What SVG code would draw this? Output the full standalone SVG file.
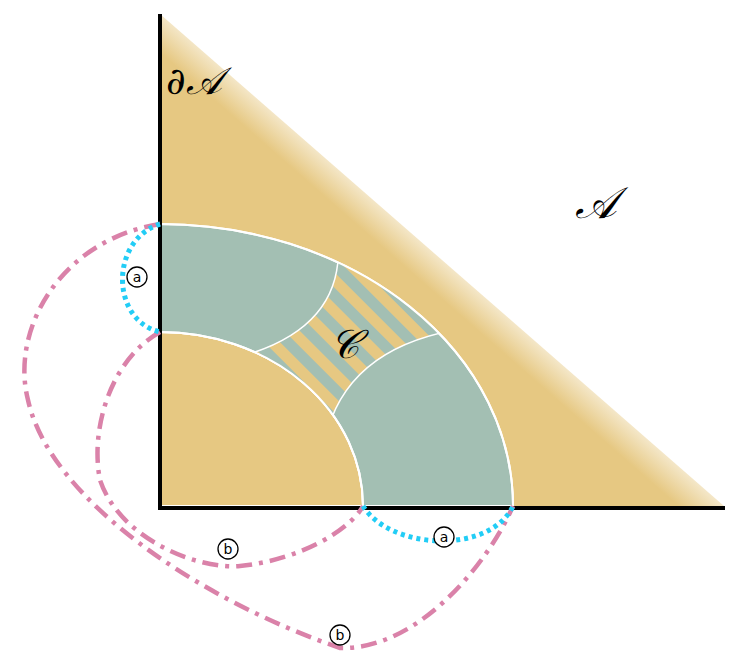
<svg xmlns="http://www.w3.org/2000/svg" width="739" height="663" viewBox="0 0 739 663">
<style>
.pk{fill:none;stroke:#da82a9;stroke-width:4.5;stroke-dasharray:16 7 4 7}
.bl{fill:none;stroke:#22cdf6;stroke-width:5;stroke-dasharray:4 4}
.lab circle{fill:#fff;stroke:#000;stroke-width:1.3}
.lab text{font-family:"DejaVu Sans",sans-serif;font-size:14px;text-anchor:middle}
.m{font-family:"DejaVu Serif","Noto Sans",serif;font-style:italic}
</style>
<defs>
<linearGradient id="g" gradientUnits="userSpaceOnUse" x1="420" y1="280" x2="455" y2="240">
<stop offset="0" stop-color="#e6c882"/><stop offset="1" stop-color="#fff"/>
</linearGradient>
<pattern id="st" patternUnits="userSpaceOnUse" width="22" height="22" patternTransform="rotate(-45)">
<rect width="22" height="22" fill="#e6c882"/><rect width="11" height="22" fill="#a3bfb3"/>
</pattern>
<clipPath id="ann"><path d="M160,224 A353,282 0 0 1 513,506 L363,506 A203,174 0 0 0 160,332 Z"/></clipPath>
</defs>
<g id="region-A"><path d="M160,14 L724,506 L160,506 Z" fill="url(#g)"/></g>
<g id="inner"><path d="M160,332 A203,174 0 0 1 363,506 L160,506 Z" fill="#e6c882" stroke="#fff" stroke-width="2"/></g>
<g id="annulus">
<path d="M160,224 A353,282 0 0 1 513,506 L363,506 A203,174 0 0 0 160,332 Z" fill="#a3bfb3" stroke="#fff" stroke-width="2"/>
<g clip-path="url(#ann)"><path d="M338,240 Q345,330 235,358 L325,440 Q345,350 455,330 Z" fill="url(#st)" stroke="#fff" stroke-width="1.5"/></g>
<path d="M160,224 A353,282 0 0 1 513,506 M363,506 A203,174 0 0 0 160,332" fill="none" stroke="#fff" stroke-width="2"/>
</g>
<g id="axes" stroke="#000" stroke-width="4" fill="none"><path d="M160,14 L160,508 L725,508"/></g>
<g id="connectors">
<path class="pk" d="M160,224 C60,240 10,330 28,400 C50,500 200,600 340,648 C420,650 490,560 513,506"/>
<path class="pk" d="M160,332 C110,360 90,430 100,480 C120,540 200,570 240,566 C300,560 350,530 363,506"/>
<path class="bl" d="M160,224 C110,240 110,320 160,332"/>
<path class="bl" d="M363,506 C390,550 490,555 513,506"/>
</g>
<g id="labels">
<g class="lab"><circle cx="137" cy="277" r="10"/><text x="137" y="282">a</text></g>
<g class="lab"><circle cx="444" cy="537" r="10"/><text x="444" y="542">a</text></g>
<g class="lab"><circle cx="228" cy="549" r="10"/><text x="228" y="554">b</text></g>
<g class="lab"><circle cx="340" cy="635" r="10"/><text x="340" y="640">b</text></g>
<text class="m" x="166" y="94" font-size="38">∂𝒜</text>
<text class="m" x="575" y="218" font-size="44">𝒜</text>
<text class="m" x="330" y="358" font-size="40">𝒞</text>
</g>
</svg>
